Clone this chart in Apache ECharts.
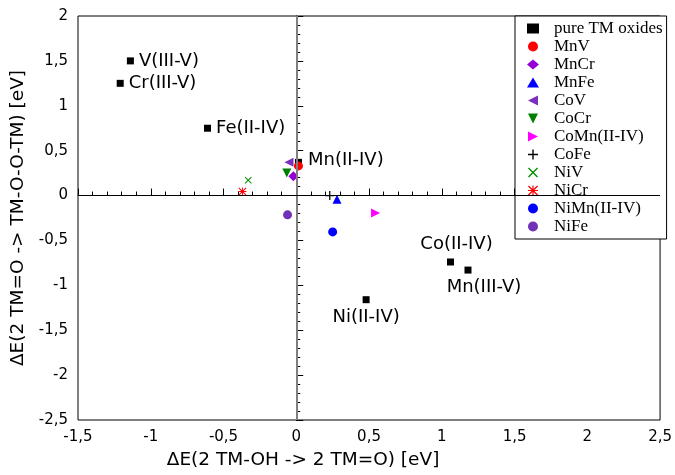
<!DOCTYPE html>
<html>
<head>
<meta charset="utf-8">
<script src="https://cdn.jsdelivr.net/npm/echarts@6/dist/echarts.min.js"></script>
<style>
  html, body { margin: 0; padding: 0; background: #fff; }
  #chart { width: 675px; height: 475px; }
</style>
</head>
<body>
<div id="chart"></div>
<script>
// pure oxides
const pureNames = ['V(III-V)', 'Cr(III-V)', 'Fe(II-IV)', 'Mn(II-IV)', 'Co(II-IV)', 'Mn(III-V)', 'Ni(II-IV)']
const pureX = [-1.14, -1.21, -0.61, 0.015, 1.06, 1.18, 0.48]
const pureY = [1.5, 1.25, 0.75, 0.37, -0.74, -0.83, -1.16]

// mixed oxides
const mixNames = ['MnV', 'MnCr', 'MnFe', 'CoV', 'CoCr', 'CoMn(II-IV)', 'CoFe', 'NiV', 'NiCr', 'NiMn(II-IV)', 'NiFe']
const mixX = [0.015, -0.02, 0.28, -0.05, -0.065, 0.545, 0.23, -0.33, -0.37, 0.25, -0.06]
const mixY = [0.33, 0.215, -0.04, 0.37, 0.25, -0.195, 0.0, 0.17, 0.045, -0.405, -0.215]

const xTicks = { min: -1.5, max: 2.5, step: 0.5 }
const yTicks = { min: -2.5, max: 2, step: 0.5 }

// marker shapes
const plusPath = 'path://M4.3,0H5.7V4.3H10V5.7H5.7V10H4.3V5.7H0V4.3H4.3Z'
const crossPath = 'path://M0,1L1,0L10,9L9,10Z M9,0L10,1L1,10L0,9Z'
const starPath = 'path://M4.4,0H5.6V4.4H10V5.6H5.6V10H4.4V5.6H0V4.4H4.4Z M0,0.9L0.9,0L10,9.1L9.1,10Z M9.1,0L10,0.9L0.9,10L0,9.1Z'
const triLeft = 'path://M0,5L10,0L10,10Z'
const triDown = 'path://M0,0L10,0L5,10Z'
const triRight = 'path://M0,0L10,5L0,10Z'

const mixStyle = {
  'MnV': { symbol: 'circle', size: 9, color: '#ff0000' },
  'MnCr': { symbol: 'diamond', size: 10, color: '#9400d3' },
  'MnFe': { symbol: 'triangle', size: 9, color: '#0000ff' },
  'CoV': { symbol: triLeft, size: 9, color: '#7b2fbe' },
  'CoCr': { symbol: triDown, size: 9, color: '#008000' },
  'CoMn(II-IV)': { symbol: triRight, size: 9, color: '#ff00ff' },
  'CoFe': { symbol: plusPath, size: 9, color: '#000000' },
  'NiV': { symbol: crossPath, size: 7, color: '#009000' },
  'NiCr': { symbol: starPath, size: 8, color: '#ff0000' },
  'NiMn(II-IV)': { symbol: 'circle', size: 9, color: '#0000ff' },
  'NiFe': { symbol: 'circle', size: 9, color: '#7030b8' }
}

const pureLabel = {
  'V(III-V)': { position: 'right', distance: 5 },
  'Cr(III-V)': { position: 'right', distance: 5 },
  'Fe(II-IV)': { position: 'right', distance: 5 },
  'Mn(II-IV)': { position: 'right', distance: 6, offset: [0, -2] },
  'Co(II-IV)': { position: 'top', distance: 5, offset: [6, 0] },
  'Mn(III-V)': { position: 'bottom', distance: 5, offset: [16, 0] },
  'Ni(II-IV)': { position: 'bottom', distance: 5, offset: [0, 0] }
}

const fmt = v => String(v).replace('.', ',')
const chart = echarts.init(document.getElementById('chart'))

const series = []
series.push({
  name: 'pure TM oxides',
  type: 'scatter',
  symbol: 'rect',
  symbolSize: 7,
  itemStyle: { color: '#000', opacity: 1 },
  z: 3,
  data: pureNames.map((n, i) => ({
    value: [pureX[i], pureY[i]],
    name: n,
    label: Object.assign({
      show: true,
      formatter: '{b}',
      color: '#000',
      fontSize: 18,
      fontFamily: 'DejaVu Sans'
    }, pureLabel[n])
  })),
  markLine: {
    silent: true,
    symbol: 'none',
    label: { show: false },
    animation: false,
    data: [
      { xAxis: 0, lineStyle: { color: '#808080', width: 2, type: 'solid' } },
      { yAxis: 0, lineStyle: { color: '#000', width: 1, type: 'solid' } }
    ]
  }
})
mixNames.forEach((n, i) => {
  const s = mixStyle[n]
  series.push({
    name: n,
    type: 'scatter',
    symbol: s.symbol,
    symbolSize: s.size,
    itemStyle: { color: s.color, opacity: 1 },
    z: 4,
    data: [[mixX[i], mixY[i]]]
  })
})

const axisCommon = {
  type: 'value',
  axisLine: { show: true, lineStyle: { color: '#000', width: 1 } },
  axisTick: { show: true, inside: true, length: 7, lineStyle: { color: '#000' } },
  minorTick: { show: true, splitNumber: 5, length: 4, lineStyle: { color: '#000' } },
  splitLine: { show: false },
  axisLabel: { color: '#000', fontSize: 15, fontFamily: 'DejaVu Sans', formatter: fmt },
  nameTextStyle: { color: '#000', fontSize: 18.5, fontFamily: 'DejaVu Sans' }
}

chart.setOption({
  animation: false,
  backgroundColor: '#fff',
  grid: {
    left: 78, right: 11, top: 16, bottom: 48,
    show: true, borderColor: '#000', borderWidth: 1
  },
  xAxis: Object.assign({}, axisCommon, {
    min: xTicks.min, max: xTicks.max, interval: xTicks.step,
    name: 'ΔE(2 TM-OH -> 2 TM=O) [eV]',
    nameLocation: 'middle',
    nameGap: 31,
    nameTextStyle: Object.assign({}, axisCommon.nameTextStyle, { padding: [0, 132, 0, 0] }),
    axisLabel: Object.assign({}, axisCommon.axisLabel, { margin: 10 })
  }),
  yAxis: Object.assign({}, axisCommon, {
    min: yTicks.min, max: yTicks.max, interval: yTicks.step,
    name: 'ΔE(2 TM=O -> TM-O-O-TM) [eV]',
    nameLocation: 'middle',
    nameGap: 50,
    axisLabel: Object.assign({}, axisCommon.axisLabel, { margin: 10 })
  }),
  legend: {
    orient: 'vertical',
    left: 515,
    top: 16,
    padding: [4, 4, 4, 12],
    itemWidth: 12,
    itemHeight: 10,
    itemGap: 1,
    backgroundColor: '#fff',
    borderColor: '#000',
    borderWidth: 1,
    borderRadius: 0,
    textStyle: { color: '#000', fontSize: 17, fontFamily: 'Liberation Serif', padding: [0, 0, 0, 10] },
    data: ['pure TM oxides'].concat(mixNames)
  },
  series: series
})
</script>
</body>
</html>
